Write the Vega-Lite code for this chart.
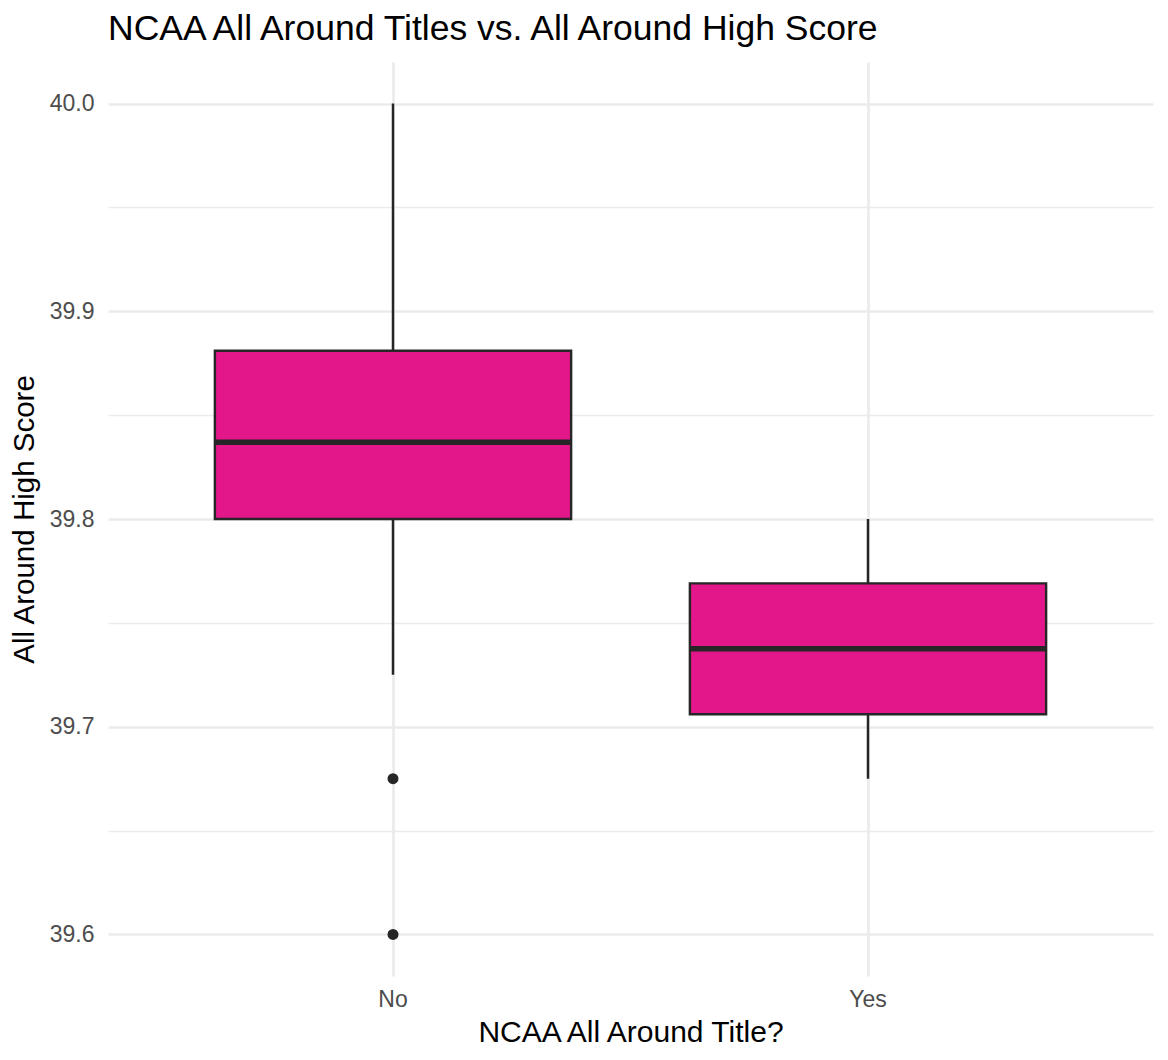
{
  "$schema": "https://vega.github.io/schema/vega-lite/v6.json",
  "autosize": "none",
  "width": 1045,
  "height": 914,
  "padding": {"left": 108, "top": 62, "right": 15, "bottom": 84},
  "background": "white",
  "config": {
    "font": "Liberation Sans",
    "view": {"stroke": null}
  },
  "title": {
    "text": "NCAA All Around Titles vs. All Around High Score",
    "anchor": "start",
    "frame": "group",
    "fontSize": 35.5,
    "fontWeight": "normal",
    "color": "#000000",
    "baseline": "alphabetic",
    "offset": -13
  },
  "datasets": {
    "box": [
      {"title": "No", "lower": 39.725, "q1": 39.8, "median": 39.837, "q3": 39.881, "upper": 40.0},
      {"title": "Yes", "lower": 39.675, "q1": 39.706, "median": 39.7375, "q3": 39.769, "upper": 39.8}
    ],
    "outliers": [
      {"title": "No", "score": 39.675},
      {"title": "No", "score": 39.6}
    ]
  },
  "encoding": {
    "x": {
      "field": "title",
      "type": "nominal",
      "scale": {"domain": ["No", "Yes"], "paddingInner": 0.25, "paddingOuter": 0.225},
      "axis": {
        "title": "NCAA All Around Title?",
        "labelAngle": 0,
        "labelFontSize": 23,
        "labelColor": "#4D4D4D",
        "labelPadding": 12,
        "titleFontSize": 30,
        "titleFontWeight": "normal",
        "titleColor": "#000000",
        "titlePadding": 6,
        "domain": false,
        "ticks": false,
        "grid": true,
        "gridColor": "#EBEBEB",
        "gridWidth": 2.7
      }
    }
  },
  "layer": [
    {
      "data": {"name": "box"},
      "mark": {"type": "rule", "color": "#262626", "strokeWidth": 2.5},
      "encoding": {
        "y": {
          "field": "lower",
          "type": "quantitative",
          "scale": {"domain": [39.58, 40.02], "nice": false, "zero": false},
          "axis": {
            "title": "All Around High Score",
            "values": [39.6, 39.65, 39.7, 39.75, 39.8, 39.85, 39.9, 39.95, 40.0],
            "labelExpr": "round(datum.value*100) % 10 == 0 ? format(datum.value, '.1f') : ''",
            "labelFontSize": 23,
            "labelColor": "#4D4D4D",
            "labelPadding": 14,
            "titleFontSize": 29.5,
            "titleFontWeight": "normal",
            "titleColor": "#000000",
            "titlePadding": 10,
            "domain": false,
            "ticks": false,
            "grid": true,
            "gridColor": "#EBEBEB",
            "gridWidth": {"condition": {"test": "round(datum.value*100) % 10 == 0", "value": 2.7}, "value": 1.4}
          }
        },
        "y2": {"field": "upper"}
      }
    },
    {
      "data": {"name": "box"},
      "mark": {"type": "bar", "fill": "#E3168A", "stroke": "#262626", "strokeWidth": 2.4},
      "encoding": {
        "y": {"field": "q3", "type": "quantitative"},
        "y2": {"field": "q1"}
      }
    },
    {
      "data": {"name": "box"},
      "mark": {"type": "tick", "color": "#262626", "size": 354, "thickness": 5.5, "opacity": 1},
      "encoding": {
        "y": {"field": "median", "type": "quantitative"}
      }
    },
    {
      "data": {"name": "outliers"},
      "mark": {"type": "point", "filled": true, "color": "#262626", "size": 120, "opacity": 1},
      "encoding": {
        "y": {"field": "score", "type": "quantitative"}
      }
    }
  ]
}
